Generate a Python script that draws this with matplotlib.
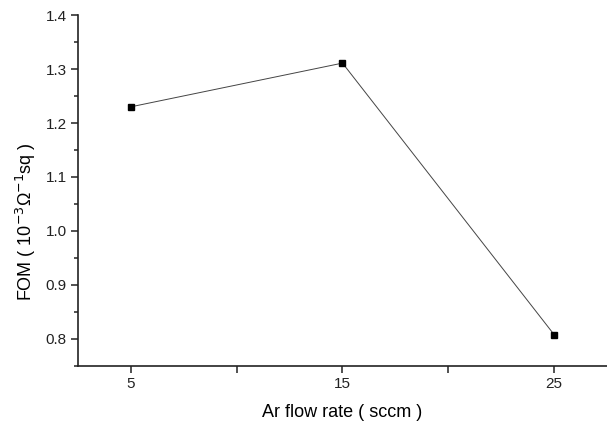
import matplotlib
matplotlib.use("Agg")
import matplotlib.pyplot as plt
from matplotlib.ticker import MultipleLocator, FixedLocator

plt.rcParams['font.family'] = ['Liberation Sans', 'DejaVu Sans']

ar_flow = [5, 15, 25]
fom = [1.230, 1.311, 0.808]
x_labels = ['5', '15', '25']

fig = plt.figure(figsize=(6.07, 4.24), dpi=100)
ax = fig.add_axes([0.1285, 0.137, 0.8715, 0.8275])

ax.plot(ar_flow, fom, color='#444444', linewidth=0.7, marker='s',
        markersize=5, markerfacecolor='black', markeredgecolor='black')

ax.set_xlim(2.5, 27.5)
ax.set_ylim(0.75, 1.4)
ax.xaxis.set_major_locator(FixedLocator(ar_flow))
ax.set_xticklabels(x_labels)
ax.xaxis.set_minor_locator(FixedLocator([10, 20]))
ax.yaxis.set_major_locator(MultipleLocator(0.1))
ax.yaxis.set_minor_locator(MultipleLocator(0.05))

for s in ['top', 'right']:
    ax.spines[s].set_visible(False)
for s in ['left', 'bottom']:
    ax.spines[s].set_linewidth(1.2)
    ax.spines[s].set_color('#222222')

ax.tick_params(axis='both', which='major', direction='out', length=5, width=1.1,
               labelsize=11, colors='#222222', pad=3)
ax.tick_params(axis='y', which='minor', direction='out', length=3, width=1.1, colors='#222222')
ax.tick_params(axis='x', which='minor', direction='out', length=5, width=1.1, colors='#222222')
ax.yaxis.set_major_formatter(matplotlib.ticker.FormatStrFormatter('%.1f'))

ax.set_xlabel('Ar flow rate ( sccm )', fontsize=13, labelpad=9)
ax.set_ylabel('FOM ( 10$^{-3}$Ω$^{-1}$sq )', fontsize=13)
ax.yaxis.set_label_coords(-0.075, 0.41)

fig.savefig('out.png', dpi=100)
